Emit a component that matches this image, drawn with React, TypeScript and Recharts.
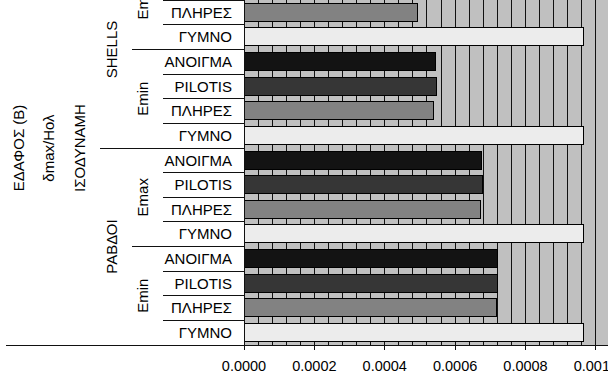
import React from "react";
import {
  BarChart,
  Bar,
  Cell,
  XAxis,
  YAxis,
  CartesianGrid,
} from "recharts";

// hierarchy of the category axis, outermost first
const outerLabels = ["ΕΔΑΦΟΣ (Β)", "δmax/Ηολ", "ΙΣΟΔΥΝΑΜΗ"];
const systems = ["SHELLS", "ΡΑΒΔΟΙ"];
const eLevels = ["Emax", "Emin"];
const variants = ["ΑΝΟΙΓΜΑ", "PILOTIS", "ΠΛΗΡΕΣ", "ΓΥΜΝΟ"];

// δmax/Hol per variant (order as in variants)
const shellsEmax = [0.000498, 0.0005, 0.000492, 0.000964];
const shellsEmin = [0.000545, 0.000548, 0.000538, 0.000964];
const rabdoiEmax = [0.000676, 0.000679, 0.000671, 0.000964];
const rabdoiEmin = [0.00072, 0.00072, 0.000717, 0.000964];

const xTicks = [0, 0.0002, 0.0004, 0.0006, 0.0008, 0.001];
const X_MAX = 0.00106;
const GRID_STEP = 0.00004;
const gridTicks = Array.from({ length: 27 }, (_, i) => +(i * GRID_STEP).toFixed(5));

const variantColors: Record<string, string> = {
  ΑΝΟΙΓΜΑ: "#131313",
  PILOTIS: "#363636",
  ΠΛΗΡΕΣ: "#828282",
  ΓΥΜΝΟ: "#ececec",
};

const valuesBySystem = [
  [shellsEmax, shellsEmin],
  [rabdoiEmax, rabdoiEmin],
];

const data = systems.flatMap((sys, si) =>
  eLevels.flatMap((e, ei) =>
    variants.map((v, vi) => ({
      id: `${sys}|${e}|${v}`,
      variant: v,
      value: valuesBySystem[si][ei][vi],
    }))
  )
);

const CHART_W = 620;
const CHART_H = 426;
const X_AXIS_H = 32;
const AXIS_X = 244;
const PLOT_H = CHART_H - X_AXIS_H;
const PITCH = PLOT_H / data.length;
const FONT = "'Liberation Sans', Arial, sans-serif";
const LABEL_SIZE = 15;

const LINE = "#111";

function Rotated({ x, y, text }: { x: number; y: number; text: string }) {
  return (
    <text
      x={x}
      y={y}
      dy="0.35em"
      textAnchor="middle"
      transform={`rotate(-90, ${x}, ${y})`}
      fontSize={LABEL_SIZE}
      fontFamily={FONT}
      fill="#000"
    >
      {text}
    </text>
  );
}

function CategoryTick({ y, payload, index }: any) {
  const [sys, e, v] = String(payload.value).split("|");
  const n = data.length;
  const bottom = y + PITCH / 2;
  let x0 = 163;
  if (index === n - 1) x0 = 6;
  else if ((index + 1) % 8 === 0) x0 = 100;
  else if ((index + 1) % 4 === 0) x0 = 132;
  const groupMid = y + PITCH / 2;
  return (
    <g>
      <text
        x={232}
        y={y}
        dy="0.35em"
        textAnchor="end"
        fontSize={LABEL_SIZE}
        fontFamily={FONT}
        fill="#000"
      >
        {v}
      </text>
      {index === 0 && (
        <line x1={6} x2={AXIS_X} y1={y - PITCH / 2} y2={y - PITCH / 2} stroke={LINE} />
      )}
      <line x1={x0} x2={AXIS_X} y1={bottom} y2={bottom} stroke={LINE} />
      {index % 4 === 1 && <Rotated x={143} y={groupMid} text={e} />}
      {index % 8 === 3 && <Rotated x={112} y={groupMid} text={sys} />}
      {index === 7 && (
        <>
          <Rotated x={80} y={groupMid} text={outerLabels[2]} />
          <Rotated x={49} y={groupMid} text={outerLabels[1]} />
          <Rotated x={19} y={groupMid} text={outerLabels[0]} />
        </>
      )}
    </g>
  );
}

export default function App() {
  return (
    <div
      style={{
        position: "fixed",
        left: 0,
        top: 0,
        width: 608,
        height: 377,
        overflow: "hidden",
        background: "#fff",
      }}
    >
      <style>{`.recharts-wrapper line, .recharts-wrapper path, .recharts-wrapper rect { shape-rendering: crispEdges; }`}</style>
      <div style={{ position: "absolute", left: 0, top: -49 }}>
        <BarChart
          width={CHART_W}
          height={CHART_H}
          data={data}
          layout="vertical"
          margin={{ top: 0, right: 3, bottom: 0, left: 0 }}
          barSize={18}
        >
          <CartesianGrid
            horizontal={false}
            verticalValues={gridTicks}
            stroke={LINE}
            fill="#c0c0c0"
            fillOpacity={1}
          />
          <XAxis
            type="number"
            domain={[0, X_MAX]}
            ticks={xTicks}
            interval={0}
            allowDataOverflow
            height={X_AXIS_H}
            tickSize={5}
            tickMargin={11}
            tickFormatter={(v: number) => v.toFixed(4)}
            tick={{ fontSize: 14.5, fontFamily: FONT, fill: "#000" }}
            axisLine={{ stroke: LINE }}
            tickLine={{ stroke: LINE }}
          />
          <YAxis
            type="category"
            dataKey="id"
            width={AXIS_X}
            interval={0}
            tickLine={false}
            axisLine={{ stroke: LINE }}
            tick={<CategoryTick />}
          />
          <Bar dataKey="value" stroke="#000" strokeWidth={1} isAnimationActive={false}>
            {data.map((d) => (
              <Cell key={d.id} fill={variantColors[d.variant]} />
            ))}
          </Bar>
        </BarChart>
      </div>
    </div>
  );
}
